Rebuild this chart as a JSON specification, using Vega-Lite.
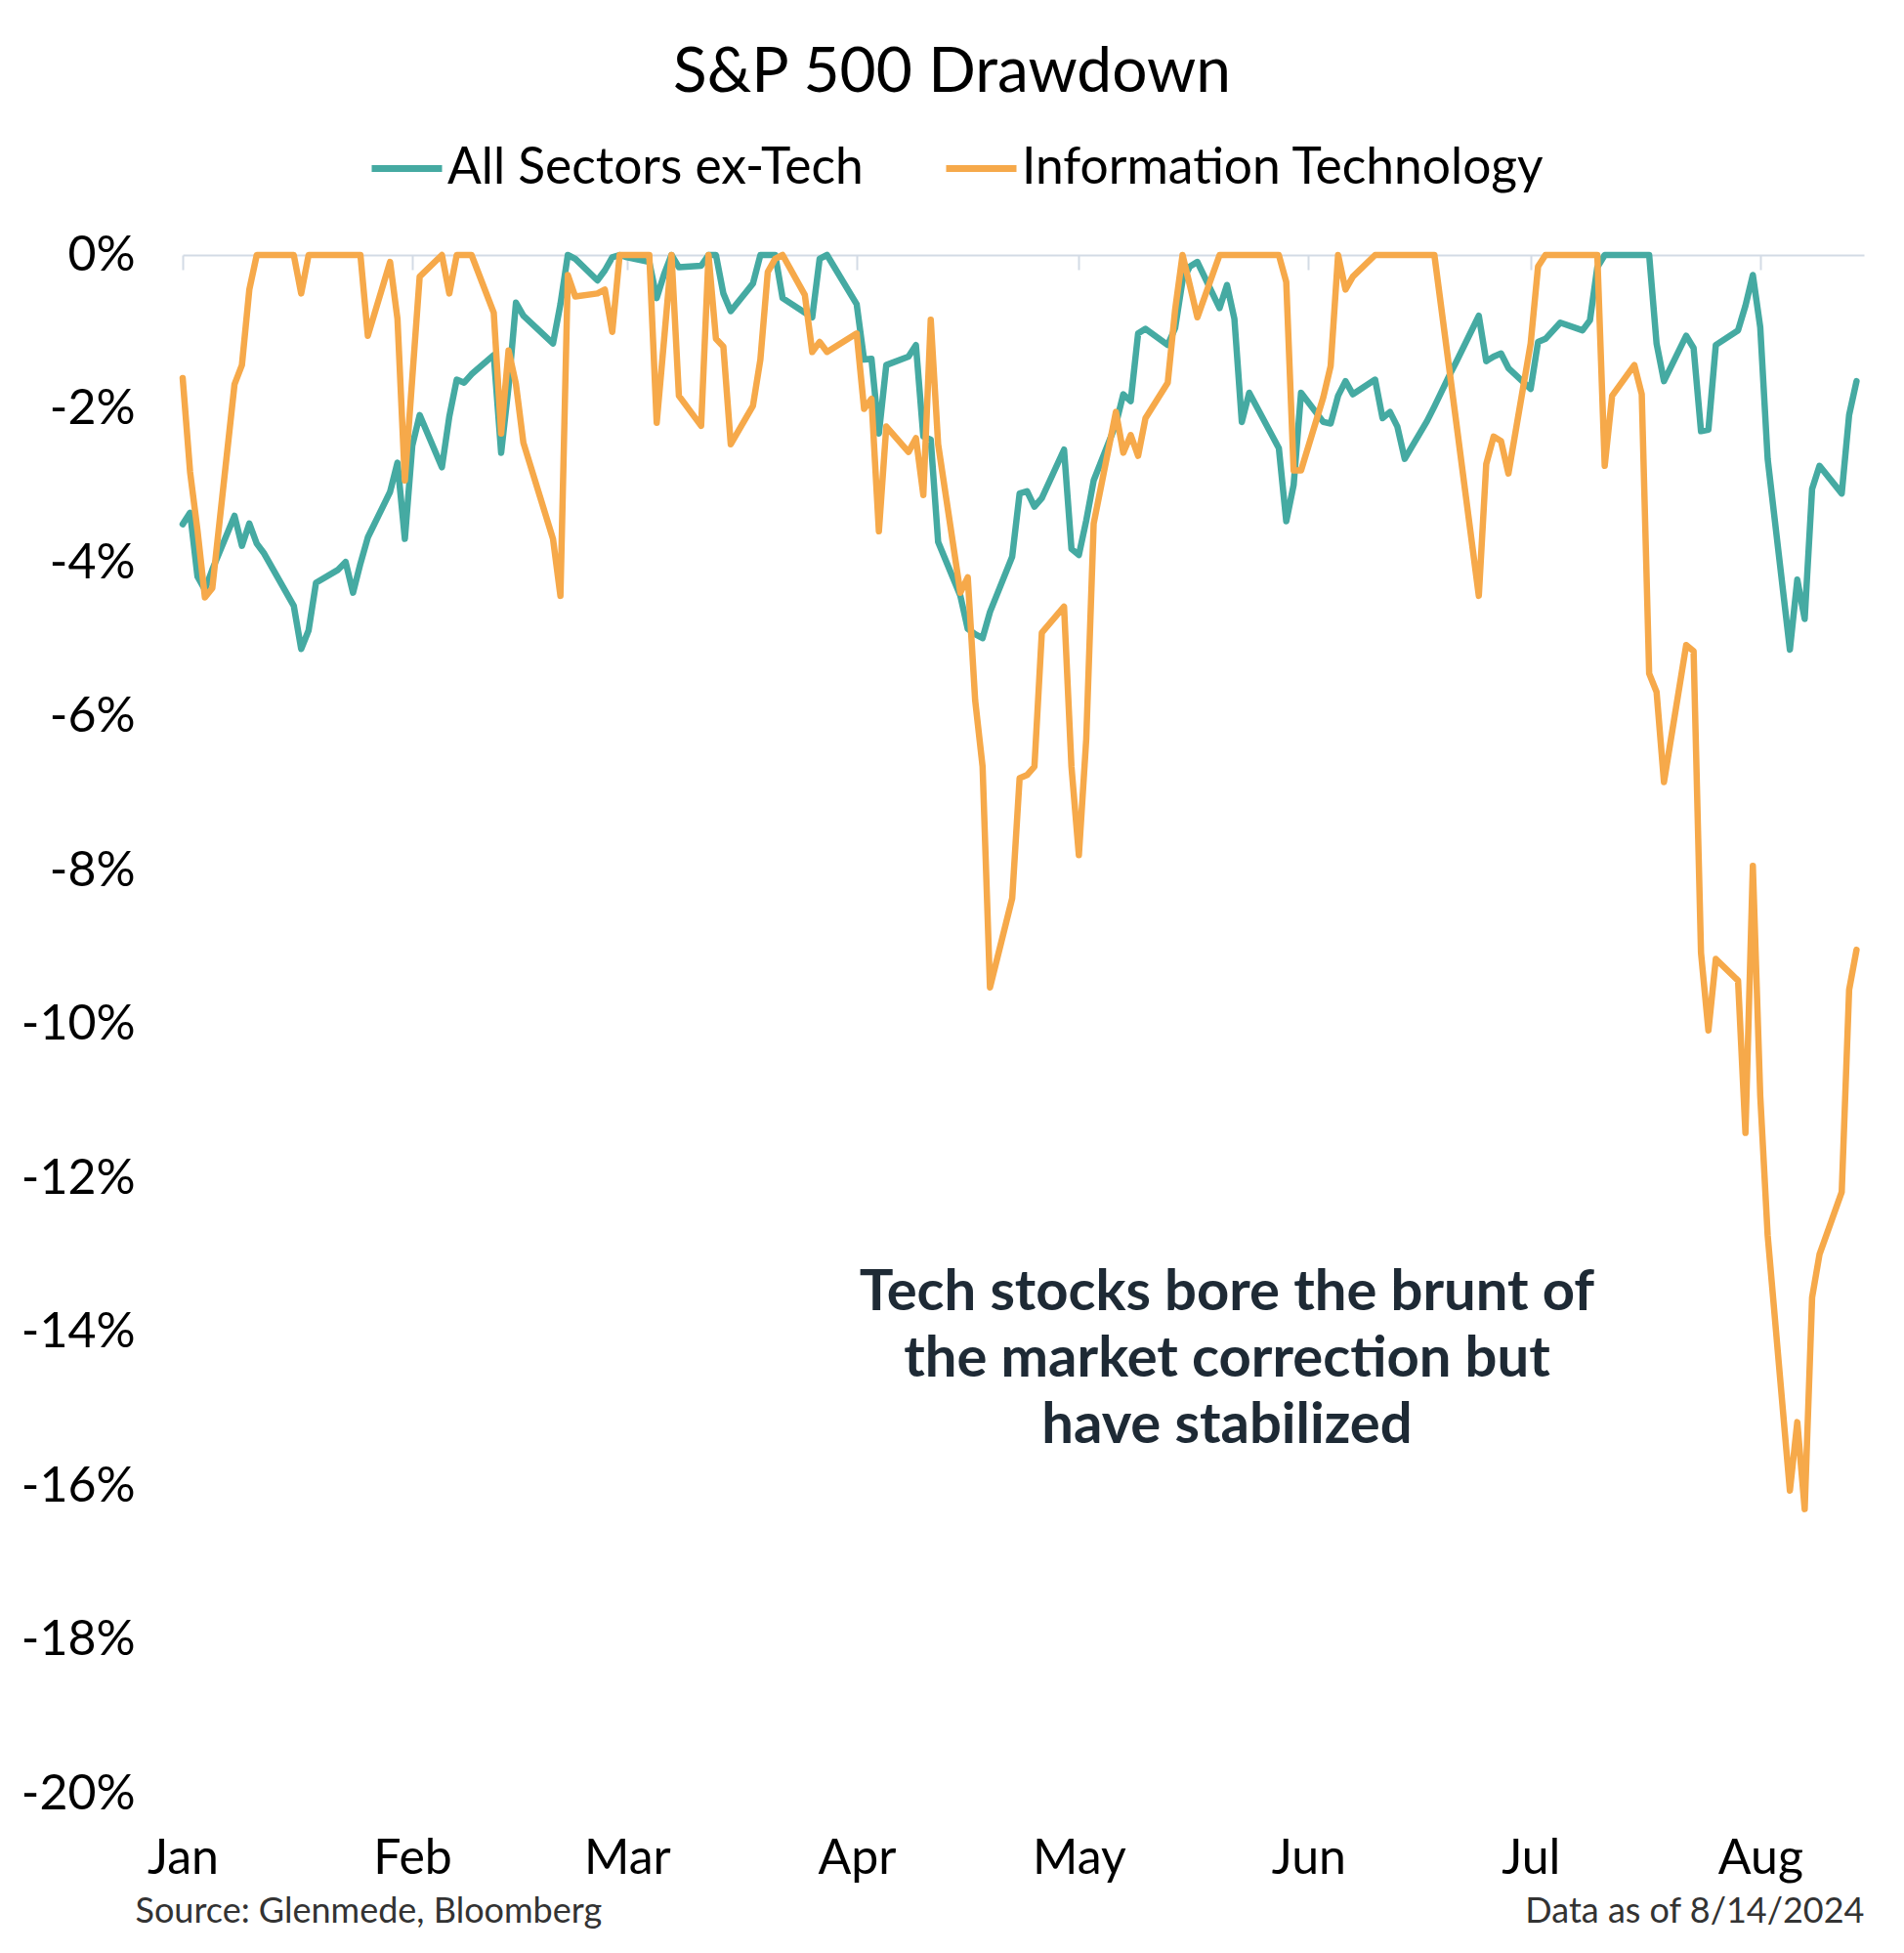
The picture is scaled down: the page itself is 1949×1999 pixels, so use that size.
{
"$schema": "https://vega.github.io/schema/vega-lite/v6.json",
"width": 1721, "height": 1575,
"autosize": {"type": "none"},
"padding": {"left": 187, "top": 261, "right": 41, "bottom": 163},
"background": "white",
"config": {"font": "Lato", "view": {"stroke": null}},
"title": {"text": "S&P 500 Drawdown", "font": "Lato", "fontSize": 64, "fontWeight": "normal", "color": "#000000", "anchor": "middle", "frame": "group", "dx": -73, "dy": 70, "offset": 45, "baseline": "alphabetic"},
"layer": [
{
"data": {"values": [
{"date":"2024-01-01","series":"All Sectors ex-Tech","value":-3.5},{"date":"2024-01-01","series":"Information Technology","value":-1.6},
{"date":"2024-01-02","series":"All Sectors ex-Tech","value":-3.35},{"date":"2024-01-02","series":"Information Technology","value":-2.82},
{"date":"2024-01-03","series":"All Sectors ex-Tech","value":-4.18},{"date":"2024-01-03","series":"Information Technology","value":-3.58},
{"date":"2024-01-04","series":"All Sectors ex-Tech","value":-4.35},{"date":"2024-01-04","series":"Information Technology","value":-4.45},
{"date":"2024-01-05","series":"All Sectors ex-Tech","value":-4.09},{"date":"2024-01-05","series":"Information Technology","value":-4.33},
{"date":"2024-01-08","series":"All Sectors ex-Tech","value":-3.39},{"date":"2024-01-08","series":"Information Technology","value":-1.68},
{"date":"2024-01-09","series":"All Sectors ex-Tech","value":-3.78},{"date":"2024-01-09","series":"Information Technology","value":-1.43},
{"date":"2024-01-10","series":"All Sectors ex-Tech","value":-3.49},{"date":"2024-01-10","series":"Information Technology","value":-0.45},
{"date":"2024-01-11","series":"All Sectors ex-Tech","value":-3.75},{"date":"2024-01-11","series":"Information Technology","value":0},
{"date":"2024-01-12","series":"All Sectors ex-Tech","value":-3.88},{"date":"2024-01-12","series":"Information Technology","value":0},
{"date":"2024-01-16","series":"All Sectors ex-Tech","value":-4.56},{"date":"2024-01-16","series":"Information Technology","value":0},
{"date":"2024-01-17","series":"All Sectors ex-Tech","value":-5.12},{"date":"2024-01-17","series":"Information Technology","value":-0.5},
{"date":"2024-01-18","series":"All Sectors ex-Tech","value":-4.88},{"date":"2024-01-18","series":"Information Technology","value":0},
{"date":"2024-01-19","series":"All Sectors ex-Tech","value":-4.26},{"date":"2024-01-19","series":"Information Technology","value":0},
{"date":"2024-01-22","series":"All Sectors ex-Tech","value":-4.09},{"date":"2024-01-22","series":"Information Technology","value":0},
{"date":"2024-01-23","series":"All Sectors ex-Tech","value":-3.99},{"date":"2024-01-23","series":"Information Technology","value":0},
{"date":"2024-01-24","series":"All Sectors ex-Tech","value":-4.39},{"date":"2024-01-24","series":"Information Technology","value":0},
{"date":"2024-01-25","series":"All Sectors ex-Tech","value":-4.01},{"date":"2024-01-25","series":"Information Technology","value":0},
{"date":"2024-01-26","series":"All Sectors ex-Tech","value":-3.67},{"date":"2024-01-26","series":"Information Technology","value":-1.05},
{"date":"2024-01-29","series":"All Sectors ex-Tech","value":-3.08},{"date":"2024-01-29","series":"Information Technology","value":-0.09},
{"date":"2024-01-30","series":"All Sectors ex-Tech","value":-2.7},{"date":"2024-01-30","series":"Information Technology","value":-0.83},
{"date":"2024-01-31","series":"All Sectors ex-Tech","value":-3.69},{"date":"2024-01-31","series":"Information Technology","value":-2.93},
{"date":"2024-02-01","series":"All Sectors ex-Tech","value":-2.48},{"date":"2024-02-01","series":"Information Technology","value":-1.6},
{"date":"2024-02-02","series":"All Sectors ex-Tech","value":-2.08},{"date":"2024-02-02","series":"Information Technology","value":-0.28},
{"date":"2024-02-05","series":"All Sectors ex-Tech","value":-2.76},{"date":"2024-02-05","series":"Information Technology","value":0},
{"date":"2024-02-06","series":"All Sectors ex-Tech","value":-2.1},{"date":"2024-02-06","series":"Information Technology","value":-0.5},
{"date":"2024-02-07","series":"All Sectors ex-Tech","value":-1.62},{"date":"2024-02-07","series":"Information Technology","value":0},
{"date":"2024-02-08","series":"All Sectors ex-Tech","value":-1.66},{"date":"2024-02-08","series":"Information Technology","value":0},
{"date":"2024-02-09","series":"All Sectors ex-Tech","value":-1.55},{"date":"2024-02-09","series":"Information Technology","value":0},
{"date":"2024-02-12","series":"All Sectors ex-Tech","value":-1.3},{"date":"2024-02-12","series":"Information Technology","value":-0.75},
{"date":"2024-02-13","series":"All Sectors ex-Tech","value":-2.57},{"date":"2024-02-13","series":"Information Technology","value":-2.32},
{"date":"2024-02-14","series":"All Sectors ex-Tech","value":-1.71},{"date":"2024-02-14","series":"Information Technology","value":-1.24},
{"date":"2024-02-15","series":"All Sectors ex-Tech","value":-0.62},{"date":"2024-02-15","series":"Information Technology","value":-1.68},
{"date":"2024-02-16","series":"All Sectors ex-Tech","value":-0.79},{"date":"2024-02-16","series":"Information Technology","value":-2.44},
{"date":"2024-02-20","series":"All Sectors ex-Tech","value":-1.15},{"date":"2024-02-20","series":"Information Technology","value":-3.69},
{"date":"2024-02-21","series":"All Sectors ex-Tech","value":-0.64},{"date":"2024-02-21","series":"Information Technology","value":-4.43},
{"date":"2024-02-22","series":"All Sectors ex-Tech","value":0},{"date":"2024-02-22","series":"Information Technology","value":-0.26},
{"date":"2024-02-23","series":"All Sectors ex-Tech","value":-0.05},{"date":"2024-02-23","series":"Information Technology","value":-0.54},
{"date":"2024-02-26","series":"All Sectors ex-Tech","value":-0.33},{"date":"2024-02-26","series":"Information Technology","value":-0.5},
{"date":"2024-02-27","series":"All Sectors ex-Tech","value":-0.2},{"date":"2024-02-27","series":"Information Technology","value":-0.45},
{"date":"2024-02-28","series":"All Sectors ex-Tech","value":-0.03},{"date":"2024-02-28","series":"Information Technology","value":-1.0},
{"date":"2024-02-29","series":"All Sectors ex-Tech","value":0},{"date":"2024-02-29","series":"Information Technology","value":0},
{"date":"2024-03-01","series":"All Sectors ex-Tech","value":-0.03},{"date":"2024-03-01","series":"Information Technology","value":0},
{"date":"2024-03-04","series":"All Sectors ex-Tech","value":-0.09},{"date":"2024-03-04","series":"Information Technology","value":0},
{"date":"2024-03-05","series":"All Sectors ex-Tech","value":-0.56},{"date":"2024-03-05","series":"Information Technology","value":-2.18},
{"date":"2024-03-06","series":"All Sectors ex-Tech","value":-0.25},{"date":"2024-03-06","series":"Information Technology","value":-1.1},
{"date":"2024-03-07","series":"All Sectors ex-Tech","value":0},{"date":"2024-03-07","series":"Information Technology","value":0},
{"date":"2024-03-08","series":"All Sectors ex-Tech","value":-0.16},{"date":"2024-03-08","series":"Information Technology","value":-1.83},
{"date":"2024-03-11","series":"All Sectors ex-Tech","value":-0.14},{"date":"2024-03-11","series":"Information Technology","value":-2.22},
{"date":"2024-03-12","series":"All Sectors ex-Tech","value":0},{"date":"2024-03-12","series":"Information Technology","value":0},
{"date":"2024-03-13","series":"All Sectors ex-Tech","value":0},{"date":"2024-03-13","series":"Information Technology","value":-1.09},
{"date":"2024-03-14","series":"All Sectors ex-Tech","value":-0.5},{"date":"2024-03-14","series":"Information Technology","value":-1.19},
{"date":"2024-03-15","series":"All Sectors ex-Tech","value":-0.73},{"date":"2024-03-15","series":"Information Technology","value":-2.46},
{"date":"2024-03-18","series":"All Sectors ex-Tech","value":-0.37},{"date":"2024-03-18","series":"Information Technology","value":-1.96},
{"date":"2024-03-19","series":"All Sectors ex-Tech","value":0},{"date":"2024-03-19","series":"Information Technology","value":-1.36},
{"date":"2024-03-20","series":"All Sectors ex-Tech","value":0},{"date":"2024-03-20","series":"Information Technology","value":-0.22},
{"date":"2024-03-21","series":"All Sectors ex-Tech","value":0},{"date":"2024-03-21","series":"Information Technology","value":-0.05},
{"date":"2024-03-22","series":"All Sectors ex-Tech","value":-0.56},{"date":"2024-03-22","series":"Information Technology","value":0},
{"date":"2024-03-25","series":"All Sectors ex-Tech","value":-0.75},{"date":"2024-03-25","series":"Information Technology","value":-0.52},
{"date":"2024-03-26","series":"All Sectors ex-Tech","value":-0.81},{"date":"2024-03-26","series":"Information Technology","value":-1.26},
{"date":"2024-03-27","series":"All Sectors ex-Tech","value":-0.05},{"date":"2024-03-27","series":"Information Technology","value":-1.13},
{"date":"2024-03-28","series":"All Sectors ex-Tech","value":0},{"date":"2024-03-28","series":"Information Technology","value":-1.26},
{"date":"2024-04-01","series":"All Sectors ex-Tech","value":-0.64},{"date":"2024-04-01","series":"Information Technology","value":-1.02},
{"date":"2024-04-02","series":"All Sectors ex-Tech","value":-1.36},{"date":"2024-04-02","series":"Information Technology","value":-2.0},
{"date":"2024-04-03","series":"All Sectors ex-Tech","value":-1.35},{"date":"2024-04-03","series":"Information Technology","value":-1.87},
{"date":"2024-04-04","series":"All Sectors ex-Tech","value":-2.32},{"date":"2024-04-04","series":"Information Technology","value":-3.59},
{"date":"2024-04-05","series":"All Sectors ex-Tech","value":-1.43},{"date":"2024-04-05","series":"Information Technology","value":-2.23},
{"date":"2024-04-08","series":"All Sectors ex-Tech","value":-1.32},{"date":"2024-04-08","series":"Information Technology","value":-2.56},
{"date":"2024-04-09","series":"All Sectors ex-Tech","value":-1.17},{"date":"2024-04-09","series":"Information Technology","value":-2.38},
{"date":"2024-04-10","series":"All Sectors ex-Tech","value":-2.36},{"date":"2024-04-10","series":"Information Technology","value":-3.12},
{"date":"2024-04-11","series":"All Sectors ex-Tech","value":-2.4},{"date":"2024-04-11","series":"Information Technology","value":-0.84},
{"date":"2024-04-12","series":"All Sectors ex-Tech","value":-3.73},{"date":"2024-04-12","series":"Information Technology","value":-2.46},
{"date":"2024-04-15","series":"All Sectors ex-Tech","value":-4.43},{"date":"2024-04-15","series":"Information Technology","value":-4.39},
{"date":"2024-04-16","series":"All Sectors ex-Tech","value":-4.86},{"date":"2024-04-16","series":"Information Technology","value":-4.19},
{"date":"2024-04-17","series":"All Sectors ex-Tech","value":-4.93},{"date":"2024-04-17","series":"Information Technology","value":-5.79},
{"date":"2024-04-18","series":"All Sectors ex-Tech","value":-4.98},{"date":"2024-04-18","series":"Information Technology","value":-6.65},
{"date":"2024-04-19","series":"All Sectors ex-Tech","value":-4.64},{"date":"2024-04-19","series":"Information Technology","value":-9.52},
{"date":"2024-04-22","series":"All Sectors ex-Tech","value":-3.92},{"date":"2024-04-22","series":"Information Technology","value":-8.36},
{"date":"2024-04-23","series":"All Sectors ex-Tech","value":-3.1},{"date":"2024-04-23","series":"Information Technology","value":-6.8},
{"date":"2024-04-24","series":"All Sectors ex-Tech","value":-3.07},{"date":"2024-04-24","series":"Information Technology","value":-6.76},
{"date":"2024-04-25","series":"All Sectors ex-Tech","value":-3.27},{"date":"2024-04-25","series":"Information Technology","value":-6.65},
{"date":"2024-04-26","series":"All Sectors ex-Tech","value":-3.16},{"date":"2024-04-26","series":"Information Technology","value":-4.91},
{"date":"2024-04-29","series":"All Sectors ex-Tech","value":-2.53},{"date":"2024-04-29","series":"Information Technology","value":-4.57},
{"date":"2024-04-30","series":"All Sectors ex-Tech","value":-3.82},{"date":"2024-04-30","series":"Information Technology","value":-6.65},
{"date":"2024-05-01","series":"All Sectors ex-Tech","value":-3.9},{"date":"2024-05-01","series":"Information Technology","value":-7.8},
{"date":"2024-05-02","series":"All Sectors ex-Tech","value":-3.45},{"date":"2024-05-02","series":"Information Technology","value":-6.29},
{"date":"2024-05-03","series":"All Sectors ex-Tech","value":-2.93},{"date":"2024-05-03","series":"Information Technology","value":-3.49},
{"date":"2024-05-06","series":"All Sectors ex-Tech","value":-2.2},{"date":"2024-05-06","series":"Information Technology","value":-2.04},
{"date":"2024-05-07","series":"All Sectors ex-Tech","value":-1.81},{"date":"2024-05-07","series":"Information Technology","value":-2.57},
{"date":"2024-05-08","series":"All Sectors ex-Tech","value":-1.9},{"date":"2024-05-08","series":"Information Technology","value":-2.34},
{"date":"2024-05-09","series":"All Sectors ex-Tech","value":-1.02},{"date":"2024-05-09","series":"Information Technology","value":-2.61},
{"date":"2024-05-10","series":"All Sectors ex-Tech","value":-0.96},{"date":"2024-05-10","series":"Information Technology","value":-2.12},
{"date":"2024-05-13","series":"All Sectors ex-Tech","value":-1.17},{"date":"2024-05-13","series":"Information Technology","value":-1.66},
{"date":"2024-05-14","series":"All Sectors ex-Tech","value":-0.95},{"date":"2024-05-14","series":"Information Technology","value":-0.71},
{"date":"2024-05-15","series":"All Sectors ex-Tech","value":-0.33},{"date":"2024-05-15","series":"Information Technology","value":0},
{"date":"2024-05-16","series":"All Sectors ex-Tech","value":-0.15},{"date":"2024-05-16","series":"Information Technology","value":-0.4},
{"date":"2024-05-17","series":"All Sectors ex-Tech","value":-0.09},{"date":"2024-05-17","series":"Information Technology","value":-0.81},
{"date":"2024-05-20","series":"All Sectors ex-Tech","value":-0.69},{"date":"2024-05-20","series":"Information Technology","value":0},
{"date":"2024-05-21","series":"All Sectors ex-Tech","value":-0.39},{"date":"2024-05-21","series":"Information Technology","value":0},
{"date":"2024-05-22","series":"All Sectors ex-Tech","value":-0.83},{"date":"2024-05-22","series":"Information Technology","value":0},
{"date":"2024-05-23","series":"All Sectors ex-Tech","value":-2.17},{"date":"2024-05-23","series":"Information Technology","value":0},
{"date":"2024-05-24","series":"All Sectors ex-Tech","value":-1.79},{"date":"2024-05-24","series":"Information Technology","value":0},
{"date":"2024-05-28","series":"All Sectors ex-Tech","value":-2.51},{"date":"2024-05-28","series":"Information Technology","value":0},
{"date":"2024-05-29","series":"All Sectors ex-Tech","value":-3.46},{"date":"2024-05-29","series":"Information Technology","value":-0.35},
{"date":"2024-05-30","series":"All Sectors ex-Tech","value":-2.99},{"date":"2024-05-30","series":"Information Technology","value":-2.8},
{"date":"2024-05-31","series":"All Sectors ex-Tech","value":-1.79},{"date":"2024-05-31","series":"Information Technology","value":-2.8},
{"date":"2024-06-03","series":"All Sectors ex-Tech","value":-2.17},{"date":"2024-06-03","series":"Information Technology","value":-1.85},
{"date":"2024-06-04","series":"All Sectors ex-Tech","value":-2.19},{"date":"2024-06-04","series":"Information Technology","value":-1.44},
{"date":"2024-06-05","series":"All Sectors ex-Tech","value":-1.83},{"date":"2024-06-05","series":"Information Technology","value":0},
{"date":"2024-06-06","series":"All Sectors ex-Tech","value":-1.64},{"date":"2024-06-06","series":"Information Technology","value":-0.45},
{"date":"2024-06-07","series":"All Sectors ex-Tech","value":-1.81},{"date":"2024-06-07","series":"Information Technology","value":-0.28},
{"date":"2024-06-10","series":"All Sectors ex-Tech","value":-1.62},{"date":"2024-06-10","series":"Information Technology","value":0},
{"date":"2024-06-11","series":"All Sectors ex-Tech","value":-2.12},{"date":"2024-06-11","series":"Information Technology","value":0},
{"date":"2024-06-12","series":"All Sectors ex-Tech","value":-2.04},{"date":"2024-06-12","series":"Information Technology","value":0},
{"date":"2024-06-13","series":"All Sectors ex-Tech","value":-2.23},{"date":"2024-06-13","series":"Information Technology","value":0},
{"date":"2024-06-14","series":"All Sectors ex-Tech","value":-2.65},{"date":"2024-06-14","series":"Information Technology","value":0},
{"date":"2024-06-17","series":"All Sectors ex-Tech","value":-2.16},{"date":"2024-06-17","series":"Information Technology","value":0},
{"date":"2024-06-18","series":"All Sectors ex-Tech","value":-1.97},{"date":"2024-06-18","series":"Information Technology","value":0},
{"date":"2024-06-20","series":"All Sectors ex-Tech","value":-1.57},{"date":"2024-06-20","series":"Information Technology","value":-1.47},
{"date":"2024-06-21","series":"All Sectors ex-Tech","value":-1.38},{"date":"2024-06-21","series":"Information Technology","value":-2.21},
{"date":"2024-06-24","series":"All Sectors ex-Tech","value":-0.79},{"date":"2024-06-24","series":"Information Technology","value":-4.43},
{"date":"2024-06-25","series":"All Sectors ex-Tech","value":-1.38},{"date":"2024-06-25","series":"Information Technology","value":-2.72},
{"date":"2024-06-26","series":"All Sectors ex-Tech","value":-1.32},{"date":"2024-06-26","series":"Information Technology","value":-2.36},
{"date":"2024-06-27","series":"All Sectors ex-Tech","value":-1.28},{"date":"2024-06-27","series":"Information Technology","value":-2.42},
{"date":"2024-06-28","series":"All Sectors ex-Tech","value":-1.47},{"date":"2024-06-28","series":"Information Technology","value":-2.84},
{"date":"2024-07-01","series":"All Sectors ex-Tech","value":-1.74},{"date":"2024-07-01","series":"Information Technology","value":-1.15},
{"date":"2024-07-02","series":"All Sectors ex-Tech","value":-1.13},{"date":"2024-07-02","series":"Information Technology","value":-0.15},
{"date":"2024-07-03","series":"All Sectors ex-Tech","value":-1.09},{"date":"2024-07-03","series":"Information Technology","value":0},
{"date":"2024-07-05","series":"All Sectors ex-Tech","value":-0.88},{"date":"2024-07-05","series":"Information Technology","value":0},
{"date":"2024-07-08","series":"All Sectors ex-Tech","value":-0.98},{"date":"2024-07-08","series":"Information Technology","value":0},
{"date":"2024-07-09","series":"All Sectors ex-Tech","value":-0.85},{"date":"2024-07-09","series":"Information Technology","value":0},
{"date":"2024-07-10","series":"All Sectors ex-Tech","value":-0.16},{"date":"2024-07-10","series":"Information Technology","value":0},
{"date":"2024-07-11","series":"All Sectors ex-Tech","value":0},{"date":"2024-07-11","series":"Information Technology","value":-2.74},
{"date":"2024-07-12","series":"All Sectors ex-Tech","value":0},{"date":"2024-07-12","series":"Information Technology","value":-1.83},
{"date":"2024-07-15","series":"All Sectors ex-Tech","value":0},{"date":"2024-07-15","series":"Information Technology","value":-1.43},
{"date":"2024-07-16","series":"All Sectors ex-Tech","value":0},{"date":"2024-07-16","series":"Information Technology","value":-1.81},
{"date":"2024-07-17","series":"All Sectors ex-Tech","value":0},{"date":"2024-07-17","series":"Information Technology","value":-5.44},
{"date":"2024-07-18","series":"All Sectors ex-Tech","value":-1.15},{"date":"2024-07-18","series":"Information Technology","value":-5.68},
{"date":"2024-07-19","series":"All Sectors ex-Tech","value":-1.64},{"date":"2024-07-19","series":"Information Technology","value":-6.85},
{"date":"2024-07-22","series":"All Sectors ex-Tech","value":-1.05},{"date":"2024-07-22","series":"Information Technology","value":-5.07},
{"date":"2024-07-23","series":"All Sectors ex-Tech","value":-1.21},{"date":"2024-07-23","series":"Information Technology","value":-5.15},
{"date":"2024-07-24","series":"All Sectors ex-Tech","value":-2.29},{"date":"2024-07-24","series":"Information Technology","value":-9.07},
{"date":"2024-07-25","series":"All Sectors ex-Tech","value":-2.27},{"date":"2024-07-25","series":"Information Technology","value":-10.08},
{"date":"2024-07-26","series":"All Sectors ex-Tech","value":-1.17},{"date":"2024-07-26","series":"Information Technology","value":-9.15},
{"date":"2024-07-29","series":"All Sectors ex-Tech","value":-0.98},{"date":"2024-07-29","series":"Information Technology","value":-9.43},
{"date":"2024-07-30","series":"All Sectors ex-Tech","value":-0.66},{"date":"2024-07-30","series":"Information Technology","value":-11.41},
{"date":"2024-07-31","series":"All Sectors ex-Tech","value":-0.26},{"date":"2024-07-31","series":"Information Technology","value":-7.94},
{"date":"2024-08-01","series":"All Sectors ex-Tech","value":-0.94},{"date":"2024-08-01","series":"Information Technology","value":-10.93},
{"date":"2024-08-02","series":"All Sectors ex-Tech","value":-2.65},{"date":"2024-08-02","series":"Information Technology","value":-12.74},
{"date":"2024-08-05","series":"All Sectors ex-Tech","value":-5.13},{"date":"2024-08-05","series":"Information Technology","value":-16.06},
{"date":"2024-08-06","series":"All Sectors ex-Tech","value":-4.22},{"date":"2024-08-06","series":"Information Technology","value":-15.17},
{"date":"2024-08-07","series":"All Sectors ex-Tech","value":-4.73},{"date":"2024-08-07","series":"Information Technology","value":-16.3},
{"date":"2024-08-08","series":"All Sectors ex-Tech","value":-3.04},{"date":"2024-08-08","series":"Information Technology","value":-13.55},
{"date":"2024-08-09","series":"All Sectors ex-Tech","value":-2.74},{"date":"2024-08-09","series":"Information Technology","value":-12.99},
{"date":"2024-08-12","series":"All Sectors ex-Tech","value":-3.1},{"date":"2024-08-12","series":"Information Technology","value":-12.18},
{"date":"2024-08-13","series":"All Sectors ex-Tech","value":-2.08},{"date":"2024-08-13","series":"Information Technology","value":-9.55},
{"date":"2024-08-14","series":"All Sectors ex-Tech","value":-1.64},{"date":"2024-08-14","series":"Information Technology","value":-9.03}
]},
"mark": {"type": "line", "strokeWidth": 6.5, "strokeCap": "round", "strokeJoin": "round"},
"encoding": {
"x": {"field": "date", "type": "temporal",
 "scale": {"type": "utc", "domain": [{"year": 2024, "month": 1, "date": 1, "utc": true}, {"year": 2024, "month": 8, "date": 15, "utc": true}]},
 "axis": {"orient": "bottom", "offset": -1575, "labelExpr": "utcFormat(datum.value, '%b')",
  "values": [{"year":2024,"month":1,"date":1,"utc":true},{"year":2024,"month":2,"date":1,"utc":true},{"year":2024,"month":3,"date":1,"utc":true},{"year":2024,"month":4,"date":1,"utc":true},{"year":2024,"month":5,"date":1,"utc":true},{"year":2024,"month":6,"date":1,"utc":true},{"year":2024,"month":7,"date":1,"utc":true},{"year":2024,"month":8,"date":1,"utc":true}],
  "grid": false, "domain": true, "domainColor": "#d3dbe5", "domainWidth": 2,
  "ticks": true, "tickColor": "#d3dbe5", "tickWidth": 2, "tickSize": 15,
  "labelFont": "Lato", "labelFontSize": 50, "labelColor": "#000000", "labelBaseline": "alphabetic", "labelPadding": 1641,
  "labelFlush": false, "labelOverlap": false, "labelAlign": "center",
  "title": "Source: Glenmede, Bloomberg", "titleFont": "Lato", "titleFontSize": 36, "titleFontWeight": "normal", "titleColor": "#333333",
  "titleAlign": "left", "titleAnchor": "start", "titleBaseline": "alphabetic", "titleX": -49, "titleY": 1706}},
"y": {"field": "value", "type": "quantitative",
 "scale": {"domain": [-20, 0], "nice": false, "zero": false},
 "axis": {"values": [-20,-18,-16,-14,-12,-10,-8,-6,-4,-2,0], "labelExpr": "datum.value + '%'",
  "grid": false, "domain": false, "ticks": false,
  "labelFont": "Lato", "labelFontSize": 50, "labelColor": "#000000", "labelPadding": 49,
  "title": "Data as of 8/14/2024", "titleFont": "Lato", "titleFontSize": 36, "titleFontWeight": "normal", "titleColor": "#333333",
  "titleAngle": 0, "titleAlign": "right", "titleAnchor": "end", "titleBaseline": "alphabetic", "titleX": 1721, "titleY": 1706}},
"color": {"field": "series", "type": "nominal",
 "scale": {"domain": ["All Sectors ex-Tech", "Information Technology"], "range": ["#45aaa2", "#f6a94a"]},
 "legend": {"orient": "none", "legendX": 190, "legendY": -128, "direction": "horizontal", "title": null,
  "symbolType": "stroke", "symbolStrokeWidth": 7, "symbolSize": 5184,
  "labelFont": "Lato", "labelFontSize": 51.5, "labelColor": "#000000", "labelOffset": 2, "columnPadding": 70, "labelLimit": 0}}
}
},
{
"data": {"values": [{"date": "2024-05-21", "value": -13.5, "note": "Tech stocks bore the brunt of\nthe market correction but\nhave stabilized"}]},
"mark": {"type": "text", "font": "Lato", "fontWeight": "bold", "fontSize": 58, "lineHeight": 68, "lineBreak": "\n", "align": "center", "baseline": "middle", "color": "#1e2a35"},
"encoding": {
"x": {"field": "date", "type": "temporal"},
"y": {"field": "value", "type": "quantitative"},
"text": {"field": "note", "type": "nominal"}
}
}
]
}
